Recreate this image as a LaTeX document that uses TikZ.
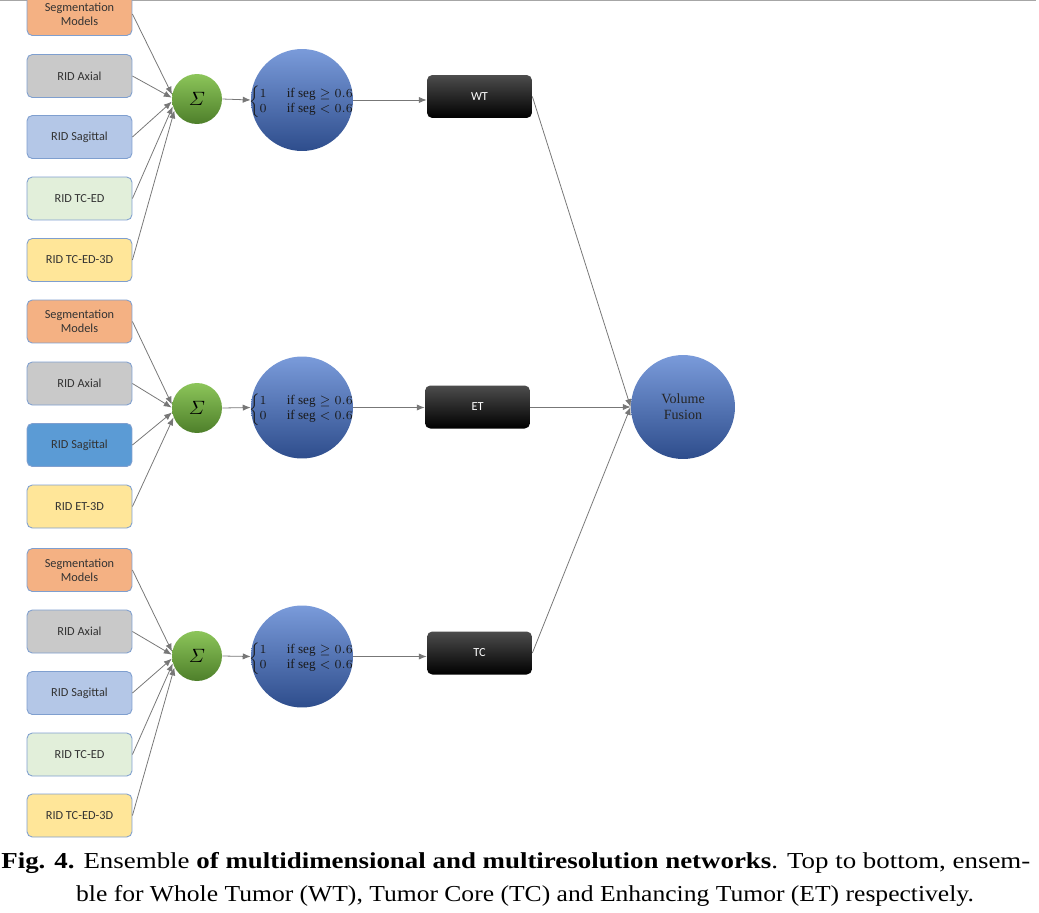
\documentclass[tikz,border=0pt]{standalone}
\usepackage{amsmath,amssymb}
\usepackage{fontspec}
\setmainfont{Liberation Serif}
\newfontfamily\calib{Carlito}
\usepackage{tikz}
\usetikzlibrary{arrows.meta}
\definecolor{segcol}{HTML}{F4B183}
\definecolor{axcol}{HTML}{C9C9C9}
\definecolor{sagcol}{HTML}{B4C7E7}
\definecolor{sagdark}{HTML}{5B9BD5}
\definecolor{tccol}{HTML}{E2EFDA}
\definecolor{yelcol}{HTML}{FFE699}
\definecolor{boxline}{HTML}{7F9FCF}
\definecolor{bluetop}{HTML}{7A9BDA}
\definecolor{bluebot}{HTML}{2E4D8C}
\definecolor{greentop}{HTML}{8CC55A}
\definecolor{greenbot}{HTML}{4E7F2A}
\definecolor{linecol}{HTML}{777777}
\newcommand{\segcases}{$\begin{cases}1\hspace{4pt} & \text{if seg}\geq 0.6\\0\hspace{4pt} & \text{if seg}<0.6\end{cases}$}
\tikzset{
  inbox/.style={draw=boxline,line width=0.5pt,rounded corners=3pt,minimum width=2.1cm,
    minimum height=0.86cm,align=center,text=black!80,font=\calib\fontsize{7}{8}\selectfont},
  sumnode/.style={circle,minimum size=1cm,inner sep=0pt,top color=greentop,bottom color=greenbot,
    font=\fontsize{11}{12}\selectfont},
  thrnode/.style={circle,minimum size=2.04cm,inner sep=0pt,top color=bluetop,bottom color=bluebot},
  thrtext/.style={label={[font=\fontsize{7.5}{7.2}\selectfont,text=black!90,yshift=-1pt]center:\segcases}},
  outbox/.style={rounded corners=3pt,minimum width=2.1cm,minimum height=0.86cm,top color=black!70,
    middle color=black,bottom color=black,text=white,font=\calib\fontsize{7}{8}\selectfont},
  conn/.style={->,draw=linecol,line width=0.45pt},
  captext/.style={inner sep=0pt,font=\fontsize{13}{16}\selectfont}
}

\begin{document}
\begin{tikzpicture}[x=0.02cm,y=-0.02cm,>={Latex[length=4.5pt,width=3.6pt]}]
\clip (0,0) rectangle (1039,913);
\draw[gray!70,line width=1pt] (0,0.5) -- (1036,0.5);
% whole tumor
\foreach \n/\y/\c/\t in {1/14/segcol/{Segmentation\\Models},2/76/axcol/{RID Axial},
  3/137/sagcol/{RID Sagittal},4/198.5/tccol/{RID TC-ED},5/260/yelcol/{RID TC-ED-3D}}
  \node[inbox,fill=\c] (w\n) at (79.5,\y) {\t};
\node[sumnode] (ws) at (197,99) {$\varSigma$};
\node[thrnode,thrtext] (wr) at (302,100) {};
\node[outbox] (wo) at (479.5,96.5) {WT};
\foreach \n/\a in {1/170,2/177,3/186,4/197,5/207}
  \draw[conn] (w\n.east) -- (ws.\a);
\draw[conn] (ws.east) -- (wr.west);
\draw[conn] (wr.east) -- (wr.east -| wo.west);
% enhancing tumor
\foreach \n/\y/\c/\t in {1/321.5/segcol/{Segmentation\\Models},2/383.5/axcol/{RID Axial},
  3/445/sagdark/{RID Sagittal},4/506.5/yelcol/{RID ET-3D}}
  \node[inbox,fill=\c] (e\n) at (79.5,\y) {\t};
\node[sumnode] (es) at (197,408) {$\varSigma$};
\node[thrnode,thrtext] (er) at (302,407.5) {};
\node[outbox] (eo) at (477.5,407) {ET};
\foreach \n/\a in {1/172,2/179,3/190,4/202}
  \draw[conn] (e\n.east) -- (es.\a);
\draw[conn] (es.east) -- (er.west);
\draw[conn] (er.east) -- (er.east -| eo.west);
% tumor core
\foreach \n/\y/\c/\t in {1/570/segcol/{Segmentation\\Models},2/631.5/axcol/{RID Axial},
  3/693/sagcol/{RID Sagittal},4/754.5/tccol/{RID TC-ED},5/815.5/yelcol/{RID TC-ED-3D}}
  \node[inbox,fill=\c] (t\n) at (79.5,\y) {\t};
\node[sumnode] (ts) at (197,656) {$\varSigma$};
\node[thrnode,thrtext] (tr) at (302,656.5) {};
\node[outbox] (to) at (479.5,653) {TC};
\foreach \n/\a in {1/170,2/177,3/186,4/197,5/207}
  \draw[conn] (t\n.east) -- (ts.\a);
\draw[conn] (ts.east) -- (tr.west);
\draw[conn] (tr.east) -- (tr.east -| to.west);
% fusion
\node[thrnode,minimum size=2.08cm,align=center,text=black!85,font=\fontsize{8}{9}\selectfont]
  (vf) at (683,407) {Volume\\Fusion};
\foreach \o in {wo,eo,to}
  \draw[conn] (\o.east) -- (vf.west);
% caption
\node[captext,anchor=base west] (cap1) at (1,868) {\scalebox{1.178}[1]{\textbf{Fig. 4.} Ensemble \textbf{of multidimensional and multiresolution networks}. Top to bottom, ensem-}};
\node[captext,anchor=base] (cap2) at (525,901) {\scalebox{1.12}[1]{ble for Whole Tumor (WT), Tumor Core (TC) and Enhancing Tumor (ET) respectively.}};
\end{tikzpicture}
\end{document}
